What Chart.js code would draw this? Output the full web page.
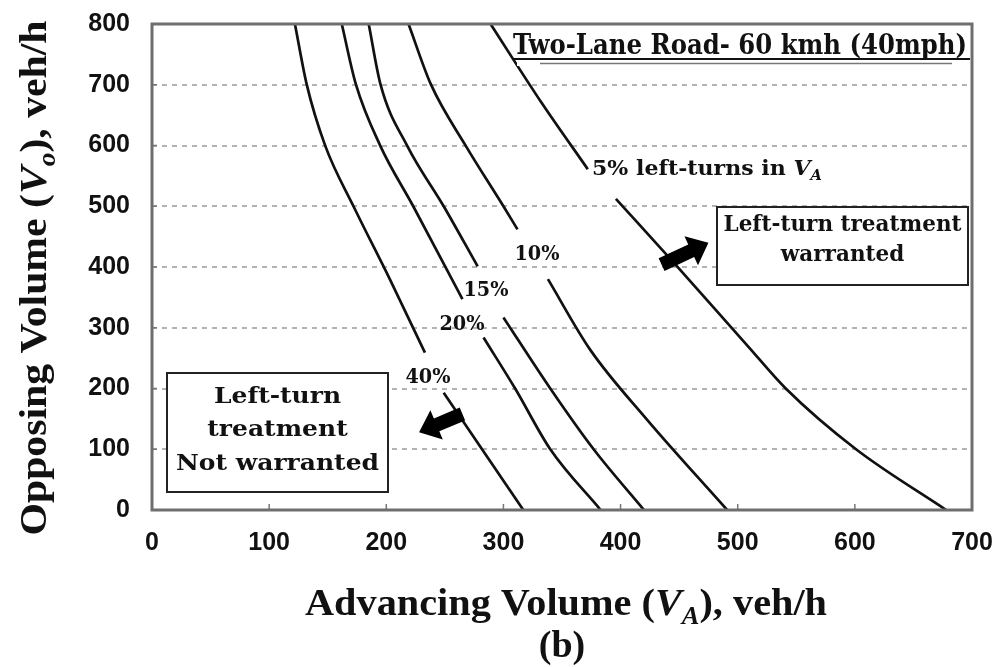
<!DOCTYPE html>
<html>
<head>
<meta charset="utf-8">
<title>Left-turn treatment warrant - two-lane road 60 km/h</title>
<script src="https://cdn.jsdelivr.net/npm/chart.js@4.4.0/dist/chart.umd.min.js"></script>
<style>
  html, body { margin: 0; padding: 0; background: #fff; }
  #wrap { width: 1000px; height: 667px; }
</style>
</head>
<body>
<div id="wrap"><canvas id="chart" width="1000" height="667"></canvas></div>
<script>
// Values: advancing volume (x) vs opposing volume (y), veh/h.
// A null marks the gap where a percentage label interrupts the curve.
const x40 = [122, 132, 148, 172, 203, 233, null, 249, 280, 317];
const y40 = [800, 701, 599, 500, 380, 259, null, 193, 105, 0];

const x20 = [162, 174, 195, 223, 265, null, 283, 310, 340, 383];
const y20 = [800, 701, 599, 500, 347, null, 284, 200, 100, 0];

const x15 = [185, 195, 218, 249, 278, null, 300, 340, 377, 420];
const y15 = [800, 701, 599, 500, 401, null, 317, 200, 100, 0];

const x10 = [219, 238, 268, 300, 312, null, 338, 374, 422, 491];
const y10 = [800, 701, 599, 500, 462, null, 380, 264, 150, 0];

const x5 = [289, 332, 372, null, 396, 445, 509, 541, 601, 678];
const y5 = [800, 672, 561, null, 512, 408, 269, 200, 100, 0];

const xTicks = [0, 100, 200, 300, 400, 500, 600, 700];
const yTicks = [0, 100, 200, 300, 400, 500, 600, 700, 800];

const INK = '#111';
const SERIF = '"DejaVu Serif", serif';
const TITLE_SERIF = '"Liberation Serif", serif';

// split a curve into line pieces at the null gaps
function toSegments(xs, ys) {
    const segs = [[]];
    xs.forEach((x, i) => {
        if (x === null) { segs.push([]); return; }
        segs[segs.length - 1].push({ x: x, y: ys[i] });
    });
    return segs;
}

const datasets = [];
[[x40, y40], [x20, y20], [x15, y15], [x10, y10], [x5, y5]].forEach(c => {
    toSegments(c[0], c[1]).forEach(seg => {
        datasets.push({
            data: seg,
            showLine: true,
            borderColor: INK,
            borderWidth: 2.7,
            pointRadius: 0,
            cubicInterpolationMode: 'monotone',
            fill: false
        });
    });
});

// draws a run of text pieces (plain / italic / subscript) centred on cx,cy,
// squeezed horizontally to the given width when one is passed
function drawRich(ctx, parts, cx, cy, size, width, family) {
    const fontFor = p => (p.i ? 'italic ' : '') + 'bold ' + (p.sub ? Math.round(size * 0.66) : size) + 'px ' + family;
    let total = 0;
    parts.forEach(p => { ctx.font = fontFor(p); p.w = ctx.measureText(p.t).width; total += p.w; });
    const sx = width ? width / total : 1;
    ctx.save();
    ctx.translate(cx, cy);
    ctx.scale(sx, 1);
    ctx.fillStyle = INK;
    ctx.textAlign = 'left';
    ctx.textBaseline = 'alphabetic';
    let x = -total / 2;
    parts.forEach(p => {
        ctx.font = fontFor(p);
        ctx.fillText(p.t, x, size * 0.35 + (p.sub ? size * 0.22 : 0));
        x += p.w;
    });
    ctx.restore();
}

function blockArrow(ctx, x1, y1, x2, y2, body, head, headLen) {
    const a = Math.atan2(y2 - y1, x2 - x1);
    const len = Math.hypot(x2 - x1, y2 - y1);
    ctx.save();
    ctx.translate(x1, y1);
    ctx.rotate(a);
    ctx.beginPath();
    ctx.moveTo(0, -body / 2);
    ctx.lineTo(len - headLen, -body / 2);
    ctx.lineTo(len - headLen, -head / 2);
    ctx.lineTo(len, 0);
    ctx.lineTo(len - headLen, head / 2);
    ctx.lineTo(len - headLen, body / 2);
    ctx.lineTo(0, body / 2);
    ctx.closePath();
    ctx.fillStyle = '#000';
    ctx.fill();
    ctx.restore();
}

function textBox(ctx, x, y, w, h, lines, size, fitLine, fitWidth) {
    ctx.fillStyle = '#fff';
    ctx.fillRect(x, y, w, h);
    ctx.strokeStyle = '#222';
    ctx.lineWidth = 2;
    ctx.strokeRect(x, y, w, h);
    ctx.font = 'bold ' + size + 'px ' + SERIF;
    const sx = fitWidth / ctx.measureText(lines[fitLine].t).width;
    lines.forEach(l => {
        ctx.font = 'bold ' + size + 'px ' + SERIF;
        drawRich(ctx, [{ t: l.t }], x + w / 2, l.y, size, ctx.measureText(l.t).width * sx, SERIF);
    });
}

const annotations = {
    id: 'annotations',
    afterDatasetsDraw(chart) {
        const ctx = chart.ctx;
        const a = chart.chartArea;
        const xs = chart.scales.x, ys = chart.scales.y;

        // small inward tick marks
        ctx.save();
        ctx.strokeStyle = '#777';
        ctx.lineWidth = 1.5;
        xTicks.slice(1, -1).forEach(v => {
            const px = xs.getPixelForValue(v);
            ctx.beginPath(); ctx.moveTo(px, a.bottom); ctx.lineTo(px, a.bottom - 6); ctx.stroke();
        });
        yTicks.slice(1, -1).forEach(v => {
            const py = ys.getPixelForValue(v);
            ctx.beginPath(); ctx.moveTo(a.left, py); ctx.lineTo(a.left + 5, py); ctx.stroke();
        });

        // title panel, top right
        ctx.fillStyle = '#fff';
        ctx.fillRect(517, a.top, a.right - 517, 42);

        // plot frame
        ctx.strokeStyle = '#6e6e6e';
        ctx.lineWidth = 3;
        ctx.strokeRect(a.left, a.top, a.right - a.left, a.bottom - a.top);

        drawRich(ctx, [{ t: 'Two-Lane Road- 60 kmh (40mph)' }], 740, 45, 27, 454, SERIF);
        ctx.strokeStyle = '#111';
        ctx.lineWidth = 2;
        ctx.beginPath(); ctx.moveTo(513, 59); ctx.lineTo(970, 59); ctx.stroke();
        ctx.strokeStyle = '#777';
        ctx.lineWidth = 1.5;
        ctx.beginPath(); ctx.moveTo(540, 63.5); ctx.lineTo(952, 63.5); ctx.stroke();

        // curve labels
        drawRich(ctx, [{ t: '5% left-turns in ' }, { t: 'V', i: true }, { t: 'A', i: true, sub: true }], 707, 168, 21, 230, SERIF);
        drawRich(ctx, [{ t: '10%' }], 537, 253, 20, 45, SERIF);
        drawRich(ctx, [{ t: '15%' }], 486, 289, 20, 45, SERIF);
        drawRich(ctx, [{ t: '20%' }], 462, 323, 20, 45, SERIF);
        drawRich(ctx, [{ t: '40%' }], 428, 376, 20, 45, SERIF);

        // regions
        textBox(ctx, 717, 207, 251, 78, [
            { t: 'Left-turn treatment', y: 223 },
            { t: 'warranted', y: 253 }
        ], 23, 0, 238);
        textBox(ctx, 167, 373, 221, 119, [
            { t: 'Left-turn', y: 395 },
            { t: 'treatment', y: 428 },
            { t: 'Not warranted', y: 462 }
        ], 23, 2, 203);

        // arrows, placed in data units
        blockArrow(ctx, xs.getPixelForValue(435), ys.getPixelForValue(404),
            xs.getPixelForValue(475), ys.getPixelForValue(440), 14, 32, 19);
        blockArrow(ctx, xs.getPixelForValue(265), ys.getPixelForValue(158),
            xs.getPixelForValue(228), ys.getPixelForValue(128), 14, 32, 19);

        // axis titles
        drawRich(ctx, [{ t: 'Advancing Volume (' }, { t: 'V', i: true }, { t: 'A', i: true, sub: true }, { t: '), veh/h' }],
            566, 602, 38, 522, TITLE_SERIF);
        drawRich(ctx, [{ t: '(b)' }], 562, 644, 38, null, TITLE_SERIF);
        ctx.save();
        ctx.translate(33, 278);
        ctx.rotate(-Math.PI / 2);
        drawRich(ctx, [{ t: 'Opposing Volume (' }, { t: 'V', i: true }, { t: 'o', i: true, sub: true }, { t: '), veh/h' }],
            0, 0, 38, 515, TITLE_SERIF);
        ctx.restore();
        ctx.restore();
    }
};

new Chart(document.getElementById('chart'), {
    type: 'scatter',
    data: { datasets: datasets },
    options: {
        responsive: false,
        animation: false,
        layout: { padding: { top: 24, right: 28, left: 0, bottom: 0 } },
        plugins: { legend: { display: false }, tooltip: { enabled: false } },
        scales: {
            x: {
                type: 'linear',
                min: 0,
                max: 700,
                afterFit: s => { s.height = 157; s.paddingLeft = 0; s.paddingRight = 0; },
                afterBuildTicks: s => { s.ticks = xTicks.map(v => ({ value: v })); },
                grid: { display: false, drawTicks: false },
                border: { display: false },
                ticks: {
                    padding: 18,
                    color: INK,
                    font: { family: '"Liberation Sans", Arial, sans-serif', weight: 'bold', size: 25 }
                }
            },
            y: {
                type: 'linear',
                min: 0,
                max: 800,
                afterFit: s => { s.width = 152; s.paddingTop = 0; s.paddingBottom = 0; },
                afterBuildTicks: s => { s.ticks = yTicks.map(v => ({ value: v })); },
                grid: {
                    drawTicks: false,
                    lineWidth: 2,
                    color: c => (c.tick && (c.tick.value === 0 || c.tick.value === 800)) ? 'rgba(0,0,0,0)' : '#b3b3b3'
                },
                border: { display: false, dash: [5, 5] },
                ticks: {
                    padding: 22,
                    color: INK,
                    font: { family: '"Liberation Sans", Arial, sans-serif', weight: 'bold', size: 25 }
                }
            }
        }
    },
    plugins: [annotations]
});
</script>
</body>
</html>
